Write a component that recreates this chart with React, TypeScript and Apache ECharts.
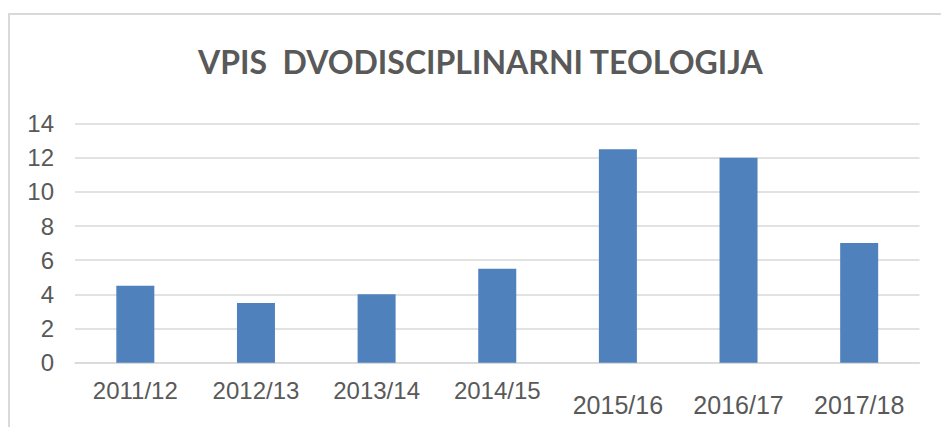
import React, { useEffect, useRef } from "react";
import * as echarts from "echarts";

const categories = ["2011/12", "2012/13", "2013/14", "2014/15", "2015/16", "2016/17", "2017/18"];
const values = [4.5, 3.5, 4, 5.5, 12.5, 12, 7];
const yTicks = { min: 0, max: 14, interval: 2 };
const titleText = "VPIS  DVODISCIPLINARNI TEOLOGIJA";
const lowLabels = ["2015/16", "2016/17", "2017/18"];

export default function App() {
  const ref = useRef<HTMLDivElement>(null);
  useEffect(() => {
    if (!ref.current) return;
    const chart = echarts.init(ref.current, null, { renderer: "svg" });
    chart.setOption({
      animation: false,
      backgroundColor: "#ffffff",
      title: {
        text: titleText,
        left: 193,
        top: 40,
        textStyle: {
          fontFamily: "Lato",
          fontWeight: "bold",
          fontSize: 32,
          color: "#595959",
        },
      },
      graphic: [
        {
          type: "rect",
          shape: { x: 9, y: 14, width: 1000, height: 500 },
          style: { fill: "none", stroke: "#d9d9d9", lineWidth: 2 },
          silent: true,
        },
      ],
      grid: { left: 75, right: 21.5, top: 123.5, bottom: 64.3, containLabel: false },
      xAxis: {
        type: "category",
        data: categories,
        axisLine: { show: true, lineStyle: { color: "#d9d9d9", width: 1.5 } },
        axisTick: { show: false },
        axisLabel: {
          interval: 0,
          hideOverlap: false,
          margin: 16,
          fontFamily: "Liberation Sans",
          fontSize: 24,
          color: "#595959",
          formatter: (v: string) => (lowLabels.includes(v) ? `{low|${v}}` : `{n|${v}}`),
          rich: {
            n: { fontFamily: "Liberation Sans", fontSize: 24, color: "#595959" },
            low: {
              fontFamily: "Liberation Sans",
              fontSize: 25,
              color: "#595959",
              padding: [14, 0, 0, 0],
            },
          },
        },
      },
      yAxis: {
        type: "value",
        min: yTicks.min,
        max: yTicks.max,
        interval: yTicks.interval,
        axisLine: { show: false },
        axisTick: { show: false },
        splitLine: { lineStyle: { color: "#d9d9d9", width: 1.5 } },
        axisLabel: {
          margin: 21,
          fontFamily: "Liberation Sans",
          fontSize: 24,
          color: "#595959",
        },
      },
      series: [
        {
          type: "bar",
          data: values,
          barWidth: 38,
          itemStyle: { color: "#4f81bd" },
        },
      ],
    });
    return () => chart.dispose();
  }, []);
  return (
    <div
      ref={ref}
      style={{ position: "fixed", left: 0, top: 0, width: 941, height: 427 }}
    />
  );
}
